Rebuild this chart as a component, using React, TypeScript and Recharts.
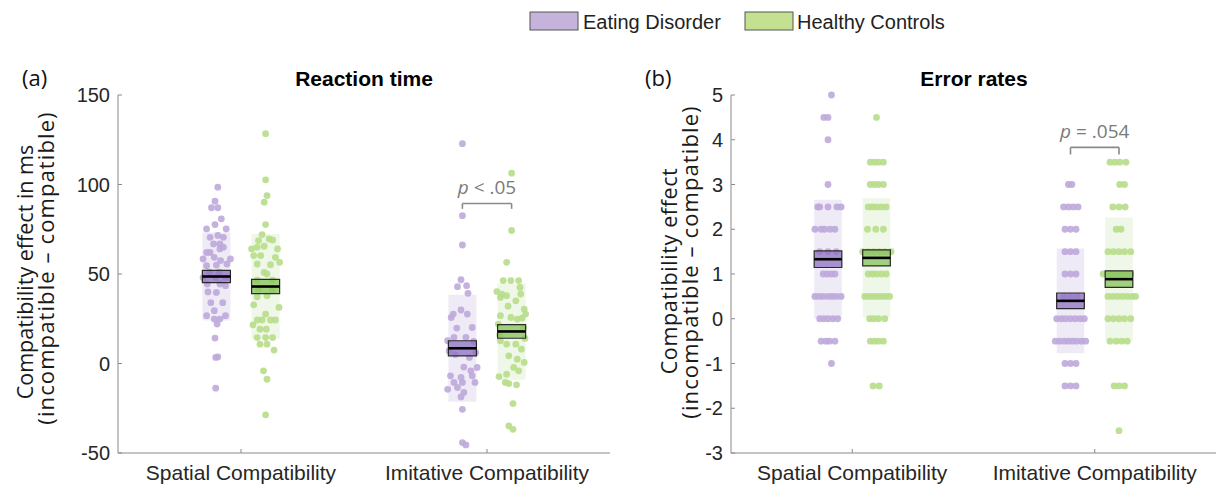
import React from "react";
import {
  ScatterChart,
  Scatter,
  XAxis,
  YAxis,
  ReferenceArea,
  ReferenceLine,
} from "recharts";

const SANS = "'Liberation Sans', Arial, sans-serif";
const LABEL_FONT = "'Open Sans', 'Liberation Sans', sans-serif";

const CATEGORIES = ["Spatial Compatibility", "Imitative Compatibility"];
const GROUPS = ["Eating Disorder", "Healthy Controls"];

// [value, jitter] — jitter in units of half the box width
type Pt = [number, number];

// (a) reaction time, ms
const rtEdSpatial: Pt[] = [
  [98.5, 0.1], [90.7, -0.1], [87, -0.35], [87, 0.1], [80.8, 0.35], [77.6, -0.1],
  [75.2, -0.7], [75.2, 0.7], [70.5, -0.45], [71.5, 0.1], [70.5, 0.5], [66.8, -0.2],
  [66.8, 0.25], [62, -0.7], [62, -0.45], [64, 0.25], [65, 0.5], [58.4, -0.95],
  [59.3, -0.15], [58.4, 1.0], [57.5, 0.3], [54.6, -0.7], [55, 0.0], [55.6, 0.75],
  [51, -0.5], [51, 0.2], [48, -0.95], [48, -0.05], [48, 0.65], [44.4, -0.65],
  [44.4, 0.25], [40, -0.6], [39.7, 0.0], [43.5, 0.65], [34, -0.4], [34, 0.45],
  [29.5, -0.15], [26.7, -0.7], [26.7, 0.65], [24.8, -0.15], [24.8, 0.25], [22, 0.05],
  [14.2, -0.1], [3.4, -0.05], [3.7, 0.1], [-13.8, -0.05],
];
const rtEdImitative: Pt[] = [
  [122.8, 0], [82.6, 0], [66.2, 0], [46.8, -0.1], [42.9, -0.35], [43.5, 0.3],
  [39.2, 0.4], [29.9, -0.1], [27.6, -0.65], [27.6, 0.35], [25.7, -0.8], [19.8, -0.4],
  [20.1, 0.7], [14.6, -0.6], [14.6, 0.25], [12.7, -1.05], [12.3, 0.8], [7, -0.95],
  [6, 0.95], [5, -0.5], [3.4, 0.5], [-2.2, 1.05], [-4.1, 0.6], [-2, 0.1],
  [-6.9, -0.85], [-7.8, -0.1], [-6.9, 0.7], [-10.6, -0.6], [-10.6, 0], [-10.6, 0.9],
  [-14.4, -1.05], [-13.4, -0.35], [-16.2, 0.1], [-18.7, -0.1], [-25.6, 0], [-44.2, 0],
  [-45.5, 0.25],
];
const rtHcSpatial: Pt[] = [
  [128.4, 0], [102.6, 0], [93.8, 0.1], [90.1, -0.1], [77.6, 0], [72, -0.25],
  [68.7, -0.5], [69.6, 0.25], [69, 0.5], [65.5, -0.1], [64, -1.0], [65, -0.6],
  [64, 0.85], [60.3, -0.85], [60.3, -0.35], [59.3, 0.7], [56.5, 1.0], [55.6, -0.6],
  [55.2, 0.35], [50.9, -0.1], [50, 0.1], [46.6, -0.6], [46.6, 0.5], [41.6, -0.5],
  [40.7, 0.5], [37.3, -0.6], [37.9, 0.1], [32.8, -0.85], [31.3, 0.95], [27.6, 0],
  [24.3, -0.6], [24.3, -0.25], [24.3, 0.35], [24.3, 0.7], [21.6, -0.9], [19.2, -0.4],
  [19.2, 0.05], [14.5, -0.6], [14.5, 0], [14.5, 0.5], [10.8, -0.4], [10.8, 0.1],
  [7.5, 0.6], [-4.1, -0.15], [-8.8, 0.1], [-28.7, 0],
];
const rtHcImitative: Pt[] = [
  [106.3, 0], [74.3, 0], [56.5, -0.35], [46.3, -0.6], [46.3, -0.05], [46.3, 0.5],
  [42.5, 0.6], [40.2, -1.05], [38.8, -0.7], [38.8, 0.65], [37.9, -0.35], [36.9, -0.8],
  [35, 0.3], [30.4, 0.9], [32, -0.25], [26.7, -0.8], [25.7, -0.05], [24.8, 0.4],
  [25.4, 0.75], [27.6, 1.0], [22, -0.95], [20, 0.85], [16, -0.85], [14, 0.95],
  [12.7, -0.8], [10.8, -0.35], [10.8, 0.3], [8, 0.7], [4.3, -0.2], [2.4, 0.4],
  [0.6, 0.9], [-2.2, 0.15], [-4.1, 0.5], [-7.3, -0.9], [-6, -0.35], [-10.6, -0.45],
  [-11.2, -0.2], [-11.9, 0.35], [-22.4, 0.1], [-34.9, -0.2], [-36.8, 0.1],
];
const rtEdMean = [48.6, 8.5];
const rtEdSe = [3.4, 4.2];
const rtEdSd = [24.6, 29.9];
const rtHcMean = [43, 17.9];
const rtHcSe = [4.0, 3.8];
const rtHcSd = [29.3, 27.0];
const rtTicks = [-50, 0, 50, 100, 150];

// (b) error rates
const erEdSpatial: Pt[] = [
  [5, 0.25], [4.5, -0.3], [4.5, 0], [4, 0], [3, 0],
  [2.5, -0.75], [2.5, -0.6], [2.5, 0], [2.5, 0.65], [2.5, 0.95],
  [2, -0.95], [2, -0.5], [2, -0.25], [2, 0.15], [2, 0.5],
  [1.5, -0.6], [1.5, 0], [1.5, 0.6],
  [1, -0.35], [1, -0.05], [1, 0.25], [1, 0.5],
  [0.5, -0.95], [0.5, -0.65], [0.5, -0.35], [0.5, 0], [0.5, 0.3], [0.5, 0.6], [0.5, 0.95],
  [0, -0.6], [0, -0.3], [0, 0], [0, 0.35], [0, 0.7],
  [-0.5, -0.5], [-0.5, -0.15], [-0.5, 0.1], [-0.5, 0.5],
  [-1, 0.25],
];
const erEdImitative: Pt[] = [
  [3, -0.15], [3, 0.1],
  [2.5, -0.5], [2.5, -0.15], [2.5, 0.2], [2.5, 0.55],
  [2, -0.4], [2, 0], [2, 0.4],
  [1.5, -0.4], [1.5, 0], [1.5, 0.4],
  [1, -0.4], [1, 0], [1, 0.4],
  [0.5, -0.5], [0.5, 0], [0.5, 0.5],
  [0, -1.0], [0, -0.65], [0, -0.35], [0, 0], [0, 0.35], [0, 0.7], [0, 1.0],
  [-0.5, -1.1], [-0.5, -0.8], [-0.5, -0.45], [-0.5, -0.15], [-0.5, 0.15], [-0.5, 0.45],
  [-0.5, 0.8], [-0.5, 1.1],
  [-1, -0.4], [-1, 0], [-1, 0.4],
  [-1.5, -0.4], [-1.5, 0], [-1.5, 0.4],
];
const erHcSpatial: Pt[] = [
  [4.5, 0],
  [3.5, -0.45], [3.5, -0.15], [3.5, 0.15], [3.5, 0.5],
  [3, -0.45], [3, -0.15], [3, 0.15], [3, 0.5],
  [2.5, -0.6], [2.5, -0.3], [2.5, 0], [2.5, 0.35], [2.5, 0.7],
  [2, -0.65], [2, -0.05], [2, 0.5],
  [1.5, -1.0], [1.5, -0.6], [1.5, -0.2], [1.5, 0.2], [1.5, 0.6], [1.5, 1.05],
  [1, -0.6], [1, -0.3], [1, 0], [1, 0.35], [1, 0.7],
  [0.5, -0.85], [0.5, -0.55], [0.5, -0.25], [0.5, 0.05], [0.5, 0.35], [0.5, 0.65], [0.5, 0.95],
  [0, -0.5], [0, -0.2], [0, 0.15], [0, 0.6],
  [-0.5, -0.45], [-0.5, -0.15], [-0.5, 0.15], [-0.5, 0.5],
  [-1.5, -0.25], [-1.5, 0.2],
];
const erHcImitative: Pt[] = [
  [3.5, -0.65], [3.5, -0.3], [3.5, 0.05], [3.5, 0.5],
  [3, 0.05], [3, 0.4],
  [2.5, -0.45], [2.5, 0], [2.5, 0.45],
  [2, -0.2], [2, 0.15],
  [1.5, -0.8], [1.5, -0.4], [1.5, 0], [1.5, 0.4], [1.5, 0.85],
  [1, -1.15], [1, -0.7], [1, -0.3], [1, 0.1], [1, 0.5], [1, 0.85],
  [0.5, -0.8], [0.5, -0.45], [0.5, -0.1], [0.5, 0.25], [0.5, 0.6], [0.5, 0.95], [0.5, 1.2],
  [0, -0.8], [0, -0.4], [0, 0], [0, 0.4], [0, 0.85],
  [-0.5, -0.65], [-0.5, -0.2], [-0.5, 0.2], [-0.5, 0.6],
  [-1.5, -0.35], [-1.5, 0], [-1.5, 0.4],
  [-2.5, 0],
];
const erEdMean = [1.33, 0.4];
const erEdSe = [0.185, 0.175];
const erEdSd = [1.33, 1.17];
const erHcMean = [1.36, 0.885];
const erHcSe = [0.18, 0.185];
const erHcSd = [1.33, 1.38];
const erTicks = [-3, -2, -1, 0, 1, 2, 3, 4, 5];

const GROUP_OFFSET = [-0.1, 0.1];
const HALF = 0.057;

const DOT = ["#bea9da", "#b7dd89"];
const BAND = ["#8f6fc0", "#8cc85c"];
const BOX = ["#8e72c0", "#86c25a"];
const LEGEND_FILL = ["#c5b3dc", "#c3e191"];

function toPoints(spatial: Pt[], imitative: Pt[], g: number) {
  return [spatial, imitative].flatMap((arr, i) =>
    arr.map(([y, j]) => ({ x: i + 1 + GROUP_OFFSET[g] + j * HALF, y }))
  );
}

const dotShape = (color: string) => (props: any) =>
  <circle cx={props.cx} cy={props.cy} r={3.4} fill={color} fillOpacity={0.9} />;

type YLine = { text: string; dx: number; cy: number; size: number; spacing: number };

type PanelProps = {
  left: number;
  width: number;
  marginLeft: number;
  marginRight: number;
  domain: [number, number];
  ticks: number[];
  ed: { x: number; y: number }[];
  hc: { x: number; y: number }[];
  means: number[][];
  ses: number[][];
  sds: number[][];
  bracketY: number;
  bracketLeg: number;
  pText: string;
  yLines: YLine[];
};

function Panel(p: PanelProps) {
  const sdAreas: React.ReactNode[] = [];
  const seAreas: React.ReactNode[] = [];
  const meanLines: React.ReactNode[] = [];
  [0, 1].forEach((g) => {
    [0, 1].forEach((c) => {
      const cx = c + 1 + GROUP_OFFSET[g];
      const m = p.means[g][c];
      sdAreas.push(
        <ReferenceArea
          key={`sd-${g}-${c}`}
          x1={cx - HALF}
          x2={cx + HALF}
          y1={m - p.sds[g][c]}
          y2={m + p.sds[g][c]}
          fill={BAND[g]}
          fillOpacity={0.14}
          stroke="none"
        />
      );
      seAreas.push(
        <ReferenceArea
          key={`se-${g}-${c}`}
          x1={cx - HALF}
          x2={cx + HALF}
          y1={m - p.ses[g][c]}
          y2={m + p.ses[g][c]}
          fill={BOX[g]}
          fillOpacity={0.75}
          stroke="#2a2a2a"
          strokeWidth={1.2}
          zIndex={700}
        />
      );
      meanLines.push(
        <ReferenceLine
          key={`m-${g}-${c}`}
          segment={[
            { x: cx - HALF, y: m },
            { x: cx + HALF, y: m },
          ]}
          stroke="#000"
          strokeWidth={2.6}
          zIndex={800}
        />
      );
    });
  });

  const bx1 = 2 + GROUP_OFFSET[0];
  const bx2 = 2 + GROUP_OFFSET[1];
  const [pLetter, ...pRest] = p.pText.split(" ");

  return (
    <div style={{ position: "absolute", left: p.left, top: 0 }}>
      <ScatterChart
        width={p.width}
        height={491}
        margin={{ top: 95, right: p.marginRight, bottom: 8, left: p.marginLeft }}
      >
        <XAxis
          type="number"
          dataKey="x"
          domain={[0.5, 2.5]}
          ticks={[1, 2]}
          interval={0}
          tickFormatter={(v: number) => CATEGORIES[Math.round(v) - 1]}
          height={30}
          stroke="#8a8a8a"
          tickSize={-4}
          tickMargin={16}
          tick={{ fill: "#262626", fontSize: 21, fontFamily: SANS }}
        />
        <YAxis
          type="number"
          dataKey="y"
          domain={p.domain}
          ticks={p.ticks}
          interval={0}
          width={60}
          stroke="#8a8a8a"
          tickSize={-4}
          tickMargin={12}
          tick={{ fill: "#262626", fontSize: 20, fontFamily: SANS }}
          label={(lp: any) => {
            const right = lp.viewBox.x + lp.viewBox.width;
            return (
              <g>
                {p.yLines.map((l, i) => (
                  <text
                    key={i}
                    x={right - l.dx}
                    y={l.cy}
                    transform={`rotate(-90 ${right - l.dx} ${l.cy})`}
                    textAnchor="middle"
                    fontFamily={LABEL_FONT}
                    fontSize={l.size}
                    letterSpacing={l.spacing}
                    fill="#1a1a1a"
                  >
                    {l.text}
                  </text>
                ))}
              </g>
            );
          }}
        />
        {sdAreas}
        <Scatter name={GROUPS[0]} data={p.ed} shape={dotShape(DOT[0])} isAnimationActive={false} />
        <Scatter name={GROUPS[1]} data={p.hc} shape={dotShape(DOT[1])} isAnimationActive={false} />
        {seAreas}
        {meanLines}
        <ReferenceLine
          segment={[
            { x: bx1, y: p.bracketY },
            { x: bx2, y: p.bracketY },
          ]}
          stroke="#8a8a8a"
          strokeWidth={1.6}
          zIndex={800}
          label={(lp: any) => (
            <text
              x={lp.viewBox.x + lp.viewBox.width / 2}
              y={lp.viewBox.y - 9}
              textAnchor="middle"
              fontFamily={LABEL_FONT}
              fontSize={19}
              fill="#7a7a7a"
            >
              <tspan fontStyle="italic">{pLetter}</tspan>
              {" " + pRest.join(" ")}
            </text>
          )}
        />
        {[bx1, bx2].map((bx) => (
          <ReferenceLine
            key={`leg-${bx}`}
            segment={[
              { x: bx, y: p.bracketY },
              { x: bx, y: p.bracketLeg },
            ]}
            stroke="#8a8a8a"
            strokeWidth={1.6}
            zIndex={800}
          />
        ))}
      </ScatterChart>
    </div>
  );
}

export default function App() {
  return (
    <div
      style={{
        position: "absolute",
        left: 0,
        top: 0,
        width: 1216,
        height: 491,
        overflow: "hidden",
        background: "#fff",
      }}
    >
      <Panel
        left={0}
        width={620}
        marginLeft={58}
        marginRight={10}
        domain={[-50, 150]}
        ticks={rtTicks}
        ed={toPoints(rtEdSpatial, rtEdImitative, 0)}
        hc={toPoints(rtHcSpatial, rtHcImitative, 1)}
        means={[rtEdMean, rtHcMean]}
        ses={[rtEdSe, rtHcSe]}
        sds={[rtEdSd, rtHcSd]}
        bracketY={89.4}
        bracketLeg={86.4}
        pText="p < .05"
        yLines={[
          { text: "Compatibility effect in ms", dx: 85, cy: 272, size: 21.5, spacing: 0 },
          { text: "(incompatible \u2013 compatible)", dx: 64, cy: 268, size: 22, spacing: 1.1 },
        ]}
      />
      <Panel
        left={619}
        width={597}
        marginLeft={52}
        marginRight={0}
        domain={[-3, 5]}
        ticks={erTicks}
        ed={toPoints(erEdSpatial, erEdImitative, 0)}
        hc={toPoints(erHcSpatial, erHcImitative, 1)}
        means={[erEdMean, erHcMean]}
        ses={[erEdSe, erHcSe]}
        sds={[erEdSd, erHcSd]}
        bracketY={3.83}
        bracketLeg={3.67}
        pText="p = .054"
        yLines={[
          { text: "Compatibility effect", dx: 54, cy: 271, size: 21.5, spacing: 0.6 },
          { text: "(incompatible \u2013 compatible)", dx: 33, cy: 262, size: 22, spacing: 1.1 },
        ]}
      />
      <svg
        width={1216}
        height={491}
        style={{ position: "absolute", left: 0, top: 0, pointerEvents: "none" }}
      >
        {GROUPS.map((g, i) => (
          <g key={g}>
            <rect
              x={530 + i * 215}
              y={12}
              width={48}
              height={18}
              fill={LEGEND_FILL[i]}
              stroke="#555"
              strokeWidth={1}
            />
            <text x={583 + i * 214} y={29} fontFamily={SANS} fontSize={20} fill="#222">
              {g}
            </text>
          </g>
        ))}
        <text x={22} y={86} fontFamily={LABEL_FONT} fontSize={22} fill="#111">
          (a)
        </text>
        <text x={364} y={86} textAnchor="middle" fontFamily={SANS} fontSize={21} fontWeight="bold" fill="#000">
          Reaction time
        </text>
        <text x={645} y={86} fontFamily={LABEL_FONT} fontSize={22} fill="#111">
          (b)
        </text>
        <text x={974} y={86} textAnchor="middle" fontFamily={SANS} fontSize={21} fontWeight="bold" fill="#000">
          Error rates
        </text>
      </svg>
    </div>
  );
}
